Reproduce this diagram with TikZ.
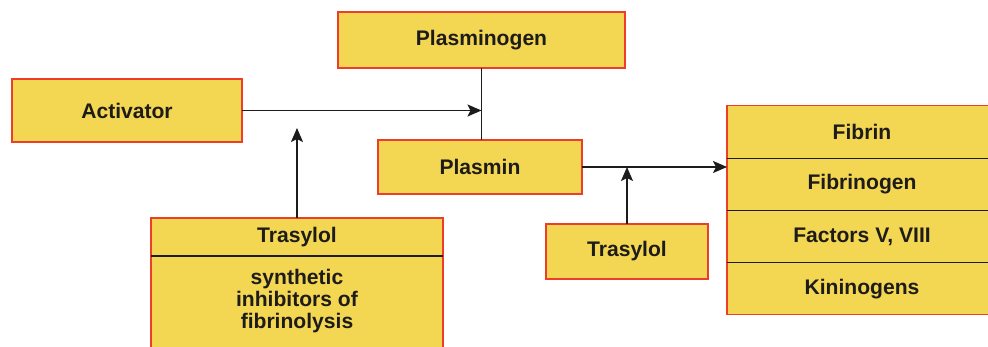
\documentclass[tikz,border=0pt]{standalone}
\usepackage{fontspec}
\setmainfont{Liberation Sans}
\usepackage{xcolor}
\usetikzlibrary{arrows.meta, positioning}
\definecolor{boxfill}{RGB}{243,214,82}
\definecolor{boxline}{RGB}{236,62,40}
\definecolor{ink}{RGB}{30,28,26}

\begin{document}
\begin{tikzpicture}[x=0.02cm, y=0.02cm, font=\bfseries\fontsize{12}{12.4}\selectfont,
  b/.style={rectangle, draw=boxline, fill=boxfill, line width=0.7pt,
            text=ink, align=center, inner sep=0pt, outer sep=0pt},
  a/.style={-{Stealth[length=0.28cm, width=0.24cm, inset=0.06cm]}, line width=0.85pt, draw=ink},
  ln/.style={line width=0.85pt, draw=ink},
  div/.style={line width=0.7pt, draw=ink}]
  \useasboundingbox (0,0) rectangle (988,-347);
  % upper chain
  \node[b, minimum width=5.74cm, minimum height=1.12cm] (plg) at (481.5,-40) {Plasminogen};
  \node[b, minimum width=4.6cm, minimum height=1.26cm] (act) at (127,-110.5) {Activator};
  \node[b, minimum width=4.08cm, minimum height=1.08cm] (pl) at (480,-167) {Plasmin};
  % substrates
  \node[b, minimum width=5.4cm, minimum height=1.045cm] (fibrin) at (862,-132) {Fibrin};
  \node[b, minimum width=5.4cm, minimum height=1.045cm, below=0pt of fibrin] (fibrinogen) {Fibrinogen};
  \node[b, minimum width=5.4cm, minimum height=1.045cm, below=0pt of fibrinogen] (factors) {Factors V, VIII};
  \node[b, minimum width=5.4cm, minimum height=1.045cm, below=0pt of factors] (kinin) {Kininogens};
  \draw[div] (fibrin.south west) -- (fibrin.south east);
  \draw[div] (fibrinogen.south west) -- (fibrinogen.south east);
  \draw[div] (factors.south west) -- (factors.south east);
  % inhibitors
  \node[b, minimum width=3.24cm, minimum height=1.1cm] (tras2) at (627,-251.5) {Trasylol};
  \node[b, minimum width=5.84cm, minimum height=2.44cm] (inh) at (297,-301)
    {synthetic\\inhibitors of\\fibrinolysis};
  \node[b, minimum width=5.84cm, minimum height=0.76cm] (tras1) at (297,-237) {Trasylol};
  \draw[div] (tras1.south west) -- (tras1.south east);
  % connectors
  \coordinate (j1) at (plg.south |- act.east);
  \coordinate (j2) at (tras2.north |- pl.east);
  \coordinate (t1) at (tras1.north |- 0,-128);
  \draw[ln] (plg.south) -- (plg.south |- pl.north);
  \draw[a] (act.east) -- (j1);
  \draw[a] (pl.east) -- (pl.east -| fibrin.west);
  \draw[a] (tras2.north) -- (j2);
  \draw[a] (tras1.north) -- (t1);
\end{tikzpicture}
\end{document}
